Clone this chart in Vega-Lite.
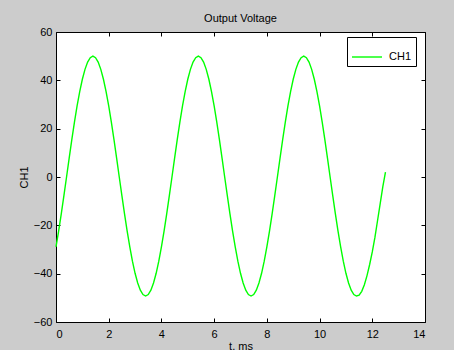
{
  "$schema": "https://vega.github.io/schema/vega-lite/v6.json",
  "autosize": "none",
  "width": 369,
  "height": 290,
  "padding": {"left": 56, "top": 32, "right": 29, "bottom": 28},
  "background": "#cccccc",
  "config": {
    "view": {"fill": "white", "stroke": "black", "strokeWidth": 1},
    "font": "Liberation Sans",
    "axis": {"labelFont": "Liberation Sans", "titleFont": "Liberation Sans", "labelFontSize": 11, "titleFontSize": 11, "titleFontWeight": "normal", "labelColor": "black", "titleColor": "black", "tickColor": "black", "domain": false, "grid": false, "tickSize": -4}
  },
  "title": {"text": "Output Voltage", "font": "Liberation Sans", "fontSize": 11, "fontWeight": "normal", "color": "black", "offset": 2},
  "data": {"values": [
    {"t":0,"v":-28.95},{"t":0.1,"v":-22.36},{"t":0.2,"v":-15.22},{"t":0.3,"v":-7.7},{"t":0.4,"v":0},{"t":0.5,"v":7.82},{"t":0.6,"v":15.45},{"t":0.7,"v":22.7},{"t":0.8,"v":29.39},{"t":0.9,"v":35.36},
    {"t":1,"v":40.45},{"t":1.1,"v":44.55},{"t":1.2,"v":47.55},{"t":1.3,"v":49.38},{"t":1.4,"v":50},{"t":1.5,"v":49.38},{"t":1.6,"v":47.55},{"t":1.7,"v":44.55},{"t":1.8,"v":40.45},{"t":1.9,"v":35.36},
    {"t":2,"v":29.39},{"t":2.1,"v":22.7},{"t":2.2,"v":15.45},{"t":2.3,"v":7.82},{"t":2.4,"v":0},{"t":2.5,"v":-7.7},{"t":2.6,"v":-15.22},{"t":2.7,"v":-22.36},{"t":2.8,"v":-28.95},{"t":2.9,"v":-34.83},
    {"t":3,"v":-39.84},{"t":3.1,"v":-43.88},{"t":3.2,"v":-46.84},{"t":3.3,"v":-48.64},{"t":3.4,"v":-49.25},{"t":3.5,"v":-48.64},{"t":3.6,"v":-46.84},{"t":3.7,"v":-43.88},{"t":3.8,"v":-39.84},{"t":3.9,"v":-34.83},
    {"t":4,"v":-28.95},{"t":4.1,"v":-22.36},{"t":4.2,"v":-15.22},{"t":4.3,"v":-7.7},{"t":4.4,"v":0},{"t":4.5,"v":7.82},{"t":4.6,"v":15.45},{"t":4.7,"v":22.7},{"t":4.8,"v":29.39},{"t":4.9,"v":35.36},
    {"t":5,"v":40.45},{"t":5.1,"v":44.55},{"t":5.2,"v":47.55},{"t":5.3,"v":49.38},{"t":5.4,"v":50},{"t":5.5,"v":49.38},{"t":5.6,"v":47.55},{"t":5.7,"v":44.55},{"t":5.8,"v":40.45},{"t":5.9,"v":35.36},
    {"t":6,"v":29.39},{"t":6.1,"v":22.7},{"t":6.2,"v":15.45},{"t":6.3,"v":7.82},{"t":6.4,"v":0},{"t":6.5,"v":-7.7},{"t":6.6,"v":-15.22},{"t":6.7,"v":-22.36},{"t":6.8,"v":-28.95},{"t":6.9,"v":-34.83},
    {"t":7,"v":-39.84},{"t":7.1,"v":-43.88},{"t":7.2,"v":-46.84},{"t":7.3,"v":-48.64},{"t":7.4,"v":-49.25},{"t":7.5,"v":-48.64},{"t":7.6,"v":-46.84},{"t":7.7,"v":-43.88},{"t":7.8,"v":-39.84},{"t":7.9,"v":-34.83},
    {"t":8,"v":-28.95},{"t":8.1,"v":-22.36},{"t":8.2,"v":-15.22},{"t":8.3,"v":-7.7},{"t":8.4,"v":0},{"t":8.5,"v":7.82},{"t":8.6,"v":15.45},{"t":8.7,"v":22.7},{"t":8.8,"v":29.39},{"t":8.9,"v":35.36},
    {"t":9,"v":40.45},{"t":9.1,"v":44.55},{"t":9.2,"v":47.55},{"t":9.3,"v":49.38},{"t":9.4,"v":50},{"t":9.5,"v":49.38},{"t":9.6,"v":47.55},{"t":9.7,"v":44.55},{"t":9.8,"v":40.45},{"t":9.9,"v":35.36},
    {"t":10,"v":29.39},{"t":10.1,"v":22.7},{"t":10.2,"v":15.45},{"t":10.3,"v":7.82},{"t":10.4,"v":0},{"t":10.5,"v":-7.7},{"t":10.6,"v":-15.22},{"t":10.7,"v":-22.36},{"t":10.8,"v":-28.95},{"t":10.9,"v":-34.83},
    {"t":11,"v":-39.84},{"t":11.1,"v":-43.88},{"t":11.2,"v":-46.84},{"t":11.3,"v":-48.64},{"t":11.4,"v":-49.25},{"t":11.5,"v":-48.9},{"t":11.6,"v":-47.3},{"t":11.7,"v":-44.6},{"t":11.8,"v":-40.8},{"t":11.9,"v":-36.2},
    {"t":12,"v":-31},{"t":12.1,"v":-25},{"t":12.2,"v":-18},{"t":12.3,"v":-11},{"t":12.4,"v":-4},{"t":12.5,"v":2}
  ]},
  "layer": [
    {
      "mark": {"type": "line", "strokeWidth": 1.4, "interpolate": "linear"},
      "encoding": {
        "x": {"field": "t", "type": "quantitative", "scale": {"domain": [0, 14], "nice": false, "zero": false}, "axis": {"orient": "bottom", "values": [0,2,4,6,8,10,12,14], "title": "t, ms", "titlePadding": 1, "labelPadding": 10}},
        "y": {"field": "v", "type": "quantitative", "scale": {"domain": [-60, 60], "nice": false}, "axis": {"orient": "left", "values": [-60,-40,-20,0,20,40,60], "title": "CH1", "titlePadding": 4, "labelPadding": 8}},
        "color": {"datum": "CH1", "type": "nominal", "scale": {"range": ["#00ff00"]}, "legend": {"title": null, "orient": "none", "legendX": 291, "legendY": 5, "fillColor": "white", "strokeColor": "black", "padding": 4, "symbolType": "stroke", "symbolSize": 900, "symbolStrokeWidth": 1.4, "labelFont": "Liberation Sans", "labelFontSize": 11, "labelColor": "black", "labelOffset": 6}}
      }
    },
    {
      "mark": {"type": "point", "opacity": 0},
      "encoding": {
        "x": {"field": "t", "type": "quantitative", "scale": {"domain": [0, 14], "nice": false, "zero": false}, "axis": {"orient": "top", "values": [0,2,4,6,8,10,12,14], "labels": false, "title": null}},
        "y": {"field": "v", "type": "quantitative", "scale": {"domain": [-60, 60], "nice": false}, "axis": {"orient": "right", "values": [-60,-40,-20,0,20,40,60], "labels": false, "title": null}}
      }
    }
  ],
  "resolve": {"axis": {"x": "independent", "y": "independent"}}
}
